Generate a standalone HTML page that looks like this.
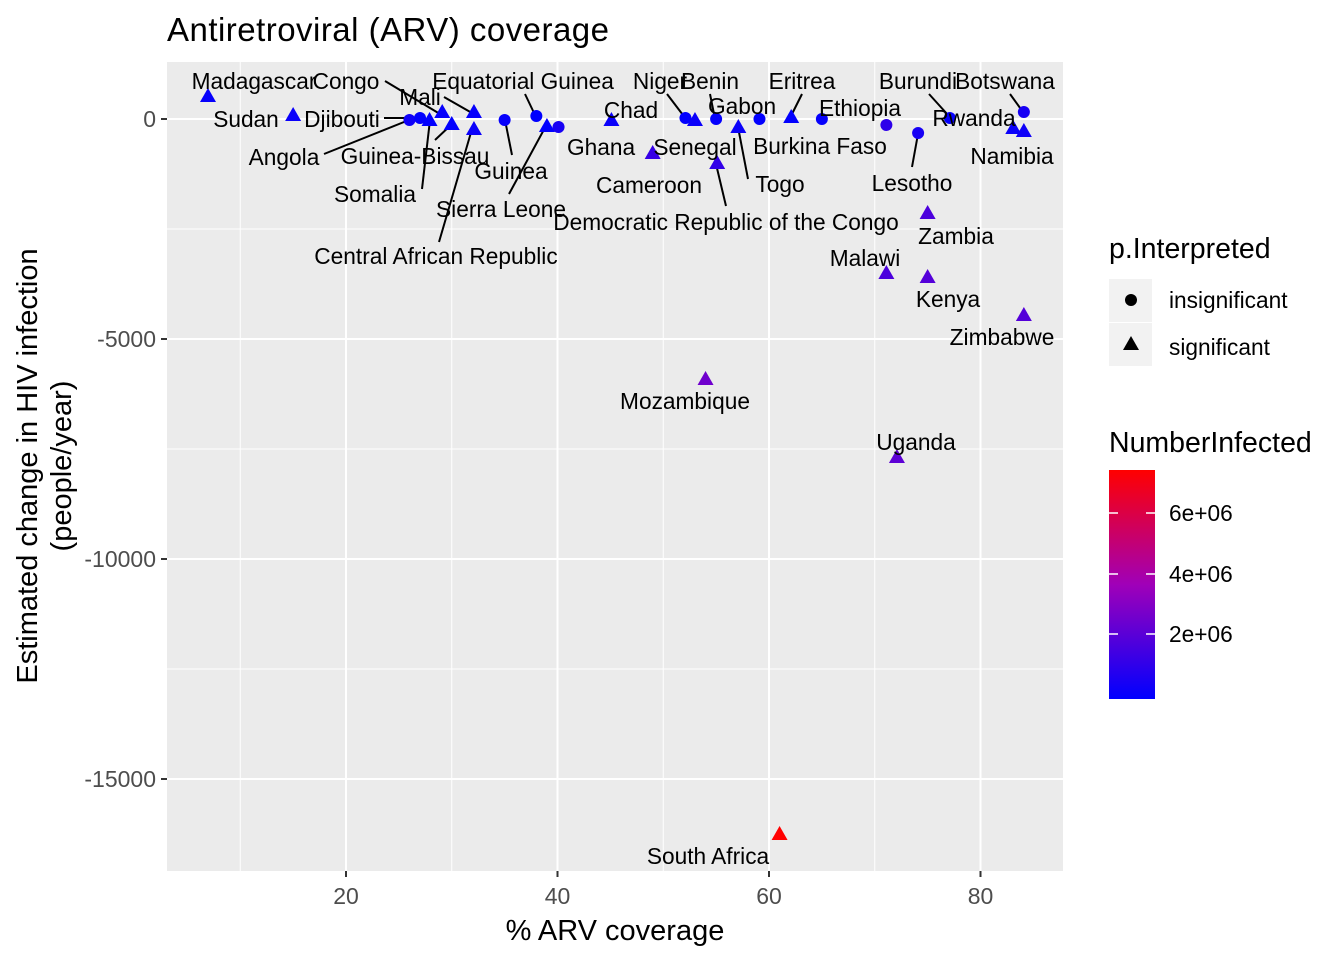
<!DOCTYPE html>
<html><head><meta charset="utf-8"><style>
body{margin:0;background:#fff;font-family:"Liberation Sans",Arial,sans-serif}
svg text{font-family:"Liberation Sans",Arial,sans-serif}
</style></head><body>
<svg id="chart" width="1344" height="960" xmlns="http://www.w3.org/2000/svg">
<rect width="1344" height="960" fill="#fff"/>
<text x="167" y="41" font-size="33" textLength="442" fill="#000">Antiretroviral (ARV) coverage</text>
<rect x="167" y="62" width="896" height="809" fill="#EBEBEB"/>
<g id="grid"></g>
<g id="axes"></g>
<g id="segs" stroke="#000" stroke-width="2"></g>
<g id="marks"></g>
<g id="labels" font-size="22.7" fill="#000" text-anchor="middle"></g>
<text x="615" y="940" font-size="29" text-anchor="middle">% ARV coverage</text>
<text transform="translate(37,466) rotate(-90)" font-size="29" text-anchor="middle">Estimated change in HIV infection</text>
<text transform="translate(71,466) rotate(-90)" font-size="29" text-anchor="middle">(people/year)</text>
<g>
<text x="1109" y="258" font-size="28.5">p.Interpreted</text>
<rect x="1109" y="279" width="43" height="43" fill="#F2F2F2"/>
<circle cx="1131" cy="300" r="6" fill="#000"/>
<text x="1169" y="308" font-size="22.7">insignificant</text>
<rect x="1109" y="323" width="43" height="43" fill="#F2F2F2"/>
<polygon points="1131,336 1139,350 1123,350" fill="#000"/>
<text x="1169" y="355" font-size="22.7">significant</text>
</g>
<g>
<text x="1109" y="452" font-size="28.5">NumberInfected</text>
<defs><linearGradient id="cg" x1="0" y1="1" x2="0" y2="0"><stop offset="0" stop-color="#0000FF"/><stop offset="0.5" stop-color="#A000B8"/><stop offset="1" stop-color="#FF0000"/></linearGradient></defs>
<rect x="1109" y="470" width="46" height="229" fill="url(#cg)"/>
<g stroke="#fff" stroke-width="1.5"><line x1="1109" y1="513" x2="1118" y2="513"/><line x1="1146" y1="513" x2="1155" y2="513"/><line x1="1109" y1="574" x2="1118" y2="574"/><line x1="1146" y1="574" x2="1155" y2="574"/><line x1="1109" y1="634" x2="1118" y2="634"/><line x1="1146" y1="634" x2="1155" y2="634"/></g>
<text x="1169" y="521" font-size="22.7">6e+06</text>
<text x="1169" y="582" font-size="22.7">4e+06</text>
<text x="1169" y="642" font-size="22.7">2e+06</text>
</g>
</svg>
<script>
const countries=["Madagascar","Sudan","Angola","Djibouti","Somalia","Congo","Guinea-Bissau","Mali","Central African Republic","Guinea","Equatorial Guinea","Sierra Leone","Ghana","Chad","Cameroon","Niger","Senegal","Benin","Togo","DRC","Gabon","Eritrea","Burkina Faso","Ethiopia","Lesotho","Burundi","Rwanda","Namibia","Botswana","Zambia","Malawi","Kenya","Zimbabwe","Mozambique","Uganda","South Africa"];
const coverage=[6.95,15.0,26.0,27.0,27.9,29.1,30.0,32.1,32.1,35.0,38.0,39.0,40.1,45.1,49.0,52.1,53.0,55.0,57.1,55.1,59.1,62.1,65.0,71.1,74.1,77.1,83.1,84.1,84.1,75.0,71.1,75.0,84.1,54.0,72.1,61.0];
const change=[523,91,-23,23,-23,159,-114,159,-227,-23,68,-159,-182,-23,-773,23,-23,0,-182,-1000,0,45,0,-136,-318,23,-205,-273,159,-2136,-3500,-3591,-4455,-5909,-7682,-16250];
const significant=[1,1,0,0,1,1,1,1,1,0,0,1,0,1,1,0,1,0,1,1,0,1,0,0,0,0,1,1,0,1,1,1,1,1,1,1];
const infected=[200000,300000,400000,100000,100000,200000,100000,200000,300000,200000,50000,100000,600000,300000,1300000,100000,300000,150000,300000,1200000,100000,100000,200000,1100000,600000,200000,300000,400000,600000,1800000,1800000,2000000,2000000,2600000,2200000,7400000];
const xTicks=[20,40,60,80], yTicks=[0,-5000,-10000,-15000], yTickLabels=["0","-5000","-10000","-15000"];
const X=v=>346+(v-20)*10.575, Y=v=>119-v*0.044;
const NS="http://www.w3.org/2000/svg";
function mk(t,a,p){const e=document.createElementNS(NS,t);for(const k in a)e.setAttribute(k,a[k]);p.appendChild(e);return e;}
const grid=document.getElementById('grid'),axes=document.getElementById('axes');
[10,30,50,70].forEach(v=>{const l=mk('line',{x1:X(v),x2:X(v),y1:62,y2:871,stroke:'#fff','stroke-width':1},grid);});
[-2500,-7500,-12500].forEach(v=>{const l=mk('line',{x1:167,x2:1063,y1:Y(v),y2:Y(v),stroke:'#fff','stroke-width':1},grid);});
xTicks.forEach(v=>{const l=mk('line',{x1:X(v),x2:X(v),y1:62,y2:871,stroke:'#fff','stroke-width':2},grid);
mk('line',{x1:X(v),x2:X(v),y1:871,y2:877,stroke:'#333','stroke-width':2},axes);
const t=mk('text',{x:X(v),y:904,'font-size':23,fill:'#4D4D4D','text-anchor':'middle'},axes);t.textContent=v;});
yTicks.forEach((v,i)=>{const l=mk('line',{x1:167,x2:1063,y1:Y(v),y2:Y(v),stroke:'#fff','stroke-width':2},grid);
mk('line',{x1:161,x2:167,y1:Y(v),y2:Y(v),stroke:'#333','stroke-width':2},axes);
const t=mk('text',{x:156,y:Y(v)+8,'font-size':23,fill:'#4D4D4D','text-anchor':'end'},axes);t.textContent=yTickLabels[i];});
const maxI=Math.max(...infected),minI=Math.min(...infected);
function col(v){const f=(v-minI)/(maxI-minI);let r,g,b;if(f<0.5){const t=f/0.5;r=160*t;g=0;b=255-(255-184)*t;}else{const t=(f-0.5)/0.5;r=160+95*t;g=0;b=184*(1-t);}return `rgb(${r|0},${g|0},${b|0})`;}
const marks=document.getElementById('marks');
coverage.forEach((c,i)=>{const x=X(c),y=Y(change[i]);let m;
if(significant[i])m=mk('polygon',{points:`${x},${y-8} ${x+8},${y+6} ${x-8},${y+6}`,fill:col(infected[i])},marks);
else m=mk('circle',{cx:x,cy:y,r:6,fill:col(infected[i])},marks);

});
const segs=[[385,81,440,114],[444,97,472,113],[384,118,419,118],[324,154,409,120],[435,140,452,124],[422,189,430,120],[439,242,472,129],[512,155,505,120],[509,194,547,124],[525,94,535,115],[667,94,686,119],[710,94,715,119],[802,94,792,114],[748,179,738,127],[726,206,716,164],[912,167,918,134],[929,94,948,115],[1010,94,1023,112]];
const sg=document.getElementById('segs');
segs.forEach(s=>{const l=mk('line',{x1:s[0],y1:s[1],x2:s[2],y2:s[3]},sg);});
const labs=[["Madagascar",254,81],["Congo",346,81],["Equatorial Guinea",523,81],["Niger",660,81],["Benin",710,81],["Eritrea",802,81],["Burundi",918,81],["Botswana",1005,81],["Mali",420,97],["Chad",631,110],["Gabon",742,106],["Ethiopia",860,108],["Rwanda",974,118],["Sudan",246,119],["Djibouti",342,119],["Ghana",601,147],["Senegal",695,147],["Burkina Faso",820,146],["Namibia",1012,156],["Angola",284,157],["Guinea-Bissau",415,156],["Guinea",511,171],["Togo",780,184],["Lesotho",912,183],["Cameroon",649,185],["Somalia",375,194],["Sierra Leone",501,209],["Democratic Republic of the Congo",726,222],["Zambia",956,236],["Central African Republic",436,256],["Malawi",865,258],["Kenya",948,299],["Zimbabwe",1002,337],["Mozambique",685,401],["Uganda",916,442],["South Africa",708,856]];
const lg=document.getElementById('labels');
labs.forEach(a=>{const t=mk('text',{x:a[1],y:a[2]+8},lg);t.textContent=a[0];});
</script>
</body></html>
